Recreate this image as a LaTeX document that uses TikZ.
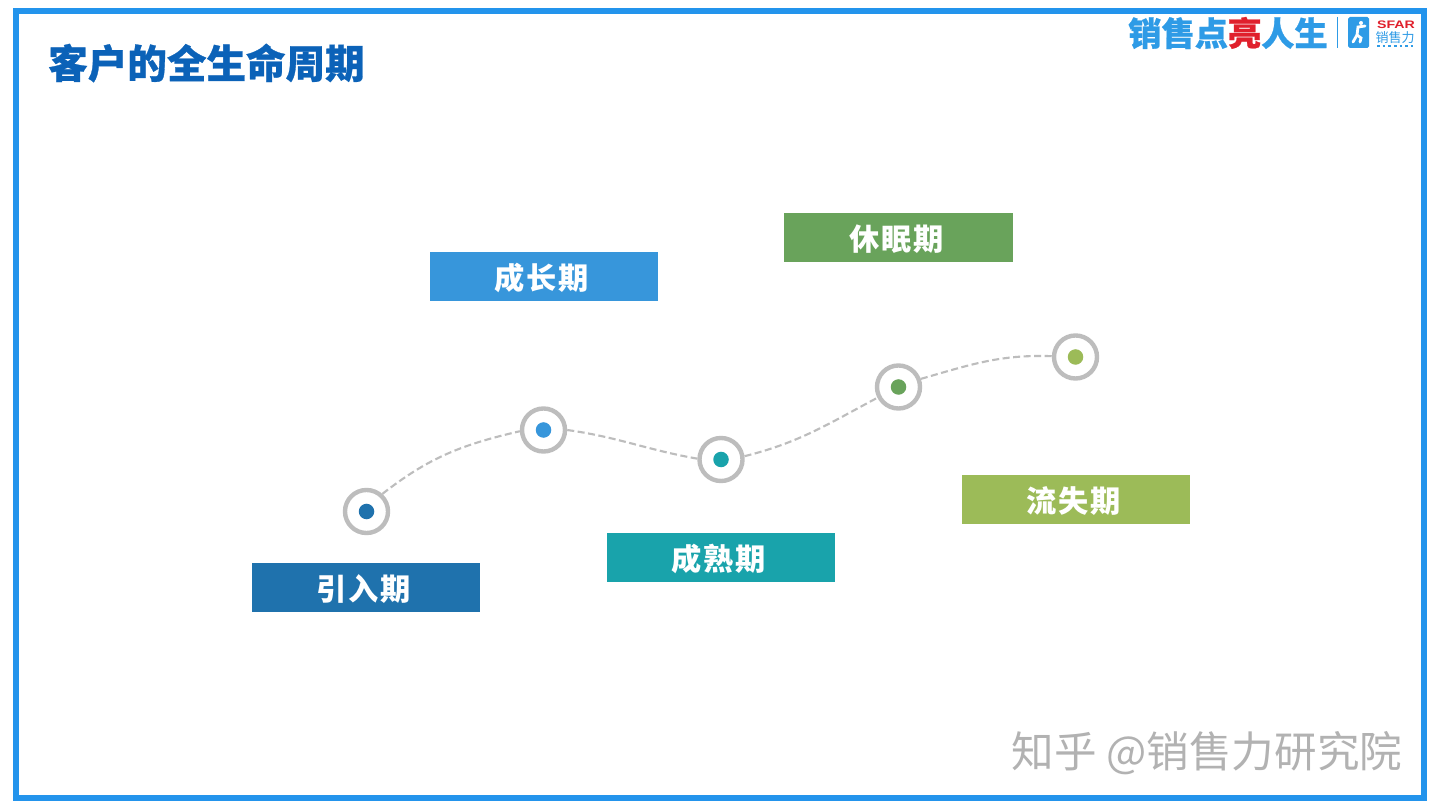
\documentclass[tikz,border=0pt]{standalone}
\usepackage{fontspec}
\usetikzlibrary{calc}
\newfontfamily\cjk[BoldFeatures={FakeBold=0.7}]{Noto Sans CJK SC}
\newfontfamily\cjkspaced[LetterSpace=6]{Noto Sans CJK SC}
\setmainfont{Liberation Sans}
\definecolor{framecol}{HTML}{2394EC}
\definecolor{titlecol}{HTML}{0B62B8}
\definecolor{ringcol}{HTML}{BDBDBD}
\definecolor{introcol}{HTML}{1F72AD}
\definecolor{growcol}{HTML}{3796DB}
\definecolor{maturecol}{HTML}{19A3AB}
\definecolor{sleepcol}{HTML}{69A35B}
\definecolor{losscol}{HTML}{9CBB58}
\definecolor{logocol}{HTML}{2E9BE6}
\definecolor{logored}{HTML}{E0202C}
\tikzset{
	stagebox/.style={fill=#1, minimum width=2.28cm, minimum height=0.49cm, inner sep=0pt, text=white, text height=9.2pt, text depth=1.9pt, font=\cjkspaced\bfseries\fontsize{8.6}{10}\selectfont, execute at end node={\kern 1.2pt}},
	ring/.style={circle, draw=ringcol, line width=1.25pt, fill=white, minimum size=0.43cm, inner sep=0pt},
	dot/.style={circle, fill=#1, minimum size=0.155cm, inner sep=0pt},
	pathline/.style={draw=ringcol, line width=0.6pt, dash pattern=on 2pt off 1pt},
}
\begin{document}
\begin{tikzpicture}[x=0.01cm, y=-0.01cm]
		%%%%% START %%%%%
		\useasboundingbox (0, 0) rectangle (1440, 810);
		\fill[white] (0, 0) rectangle (1440, 810);
		\draw[framecol, line width=1.7pt] (16, 11) rectangle (1424, 798);
		
		\node[text=titlecol, font=\cjk\bfseries\fontsize{11.25}{14}\selectfont] (title) at (206.5, 63) {客户的全生命周期};
		
		% logo
		\node[text=logocol, inner sep=0pt, font=\cjk\bfseries\fontsize{9.45}{11}\selectfont] (logotext) at (1228, 33) {销售点\textcolor{logored}{亮}人生};
		\draw[logocol, line width=0.25pt] (1337, 17) -- (1337, 48);
		\fill[logocol, rounded corners=0.5pt] (1348, 17) rectangle (1369, 48);
		\fill[white] (1361, 23) circle (2);
		\draw[white, line width=0.8pt, line cap=round] (1365, 26) -- (1358, 27) -- (1357, 35) -- (1353, 42);
		\draw[white, line width=0.8pt, line cap=round] (1357, 35) -- (1361, 38) -- (1360, 42);
		\node[text=logored, inner sep=0pt, xscale=1.3, font=\bfseries\fontsize{3.1}{4}\selectfont] (logosfar) at (1396, 24.5) {SFAR};
		\node[text=logocol, inner sep=0pt, font=\cjk\fontsize{3.7}{4}\selectfont] (logoname) at (1395, 38) {销售力};
		\draw[logocol, line width=0.4pt, dash pattern=on 0.8pt off 0.8pt] (1377, 46) -- (1413, 46);
		
		% rings and stages
		\node[ring] (intro) at (366.5, 511.5) {};
		\node[ring] (grow) at (543.5, 430) {};
		\node[ring] (mature) at (721, 459.5) {};
		\node[ring] (sleep) at (898.5, 387) {};
		\node[ring] (loss) at (1075.5, 357) {};
		\node[dot=introcol] (introdot) at (intro) {};
		\node[dot=growcol] (growdot) at (grow) {};
		\node[dot=maturecol] (maturedot) at (mature) {};
		\node[dot=sleepcol] (sleepdot) at (sleep) {};
		\node[dot=losscol] (lossdot) at (loss) {};
		
		\draw[pathline] (intro.48) to[out=38, in=193] (grow.183);
		\draw[pathline] (grow.0) to[out=-8, in=170] (mature.178);
		\draw[pathline] (mature.8) to[out=14, in=208] (sleep.207);
		\draw[pathline] (sleep.20) to[out=16, in=178] (loss.178);
		
		\node[stagebox=introcol] (introbox) at (366, 587.5) {引入期};
		\node[stagebox=growcol] (growbox) at (544, 276.5) {成长期};
		\node[stagebox=maturecol] (maturebox) at (721, 557.5) {成熟期};
		\node[stagebox=sleepcol] (sleepbox) at (898.5, 237.5) {休眠期};
		\node[stagebox=losscol] (lossbox) at (1076, 499.5) {流失期};
		
		% watermark
		\node[text=black!30, inner sep=0pt, font=\cjk\fontsize{12.1}{14}\selectfont] (zhihu) at (1207, 753) {知乎 @销售力研究院};
		%%%%% END %%%%%
	\end{tikzpicture}
\end{document}
